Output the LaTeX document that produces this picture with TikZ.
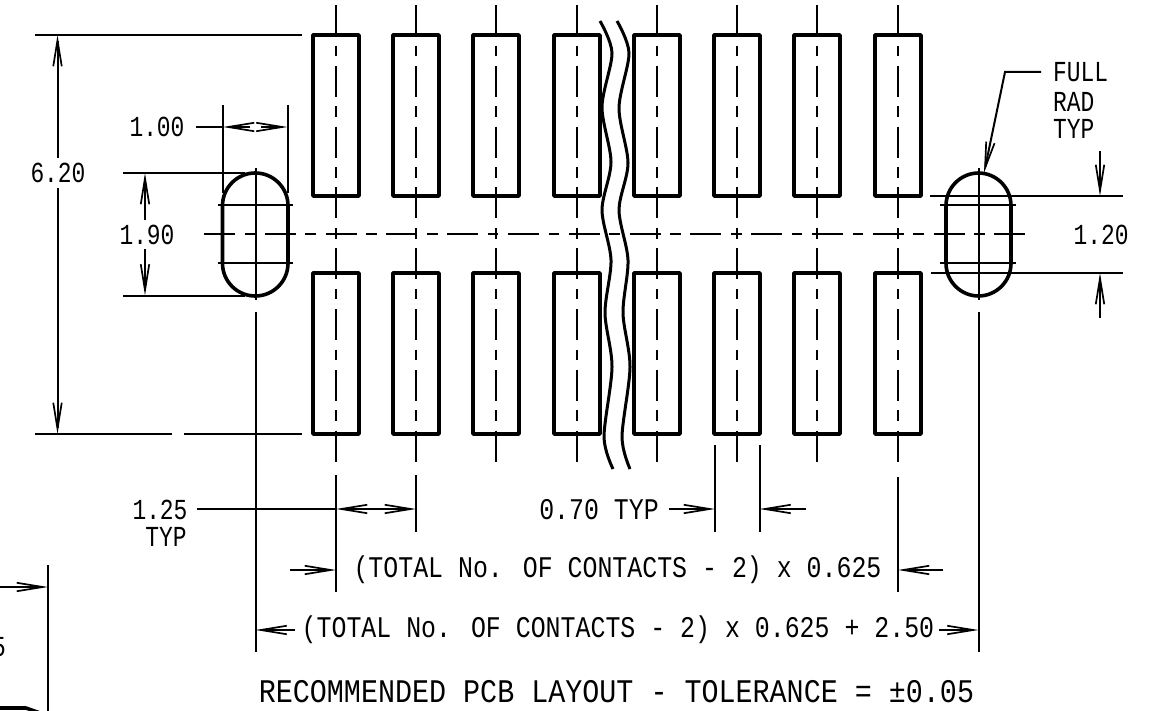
\documentclass[tikz,border=0pt]{standalone}
\usepackage{fontspec}
\usetikzlibrary{arrows.meta}
\newfontfamily\dimfont[FakeStretch=0.83]{Liberation Mono}
\newfontfamily\shortfont[FakeStretch=0.79]{Liberation Mono}
\newfontfamily\titlefont[FakeStretch=0.86]{Liberation Mono}
\tikzset{
  padline/.style={black, line width=3.6pt, line join=round},
  dimline/.style={black, line width=2pt},
  centerline/.style={black, line width=2pt, dash pattern=on 31pt off 9.6pt on 10.6pt off 9.6pt},
  shorttext/.style={inner sep=0pt, font=\shortfont\fontsize{29}{29}\selectfont},
  dimtext/.style={inner sep=0pt, font=\dimfont\fontsize{30}{30}\selectfont},
  bigtext/.style={inner sep=0pt, font=\titlefont\fontsize{33}{33}\selectfont},
  >={Straight Barb[length=26pt,width=8.5pt,line width=1.7pt]},
}
\begin{document}
\begin{tikzpicture}[x=1pt, y=-1pt]
    \useasboundingbox[fill=white] (0,0) rectangle (1150,711);

    % contacts and their centre lines
    \foreach \padx in {336,416,496,577,657,737,817,898} {
        \draw[padline] (\padx-23,35) rectangle (\padx+23,196);
        \draw[padline] (\padx-23,273) rectangle (\padx+23,434);
        \draw[centerline] (\padx,5) -- (\padx,463);
    }
    \draw[centerline] (204,234.5) -- (1026,234.5);

    % break lines
    \draw[padline, line width=3pt] plot[smooth] coordinates {(600,21) (612,53) (602,107) (611,162) (602,210) (611,260) (605,313) (612,367) (604,437) (613,469)};
    \draw[padline, line width=3pt] plot[smooth] coordinates {(617,21) (629,53) (619,108) (628,163) (619,210) (628,260) (623,313) (630,367) (622,437) (630,469)};

    % left slot
    \draw[padline, rounded corners=32.7pt] (222.5,173) rectangle (288,296);
    \draw[dimline] (218,205.5) -- (293,205.5);
    \draw[dimline] (218,263) -- (293,263);
    \draw[dimline] (255.5,168) -- (255.5,300);
    \draw[dimline] (255.5,312) -- (255.5,652);

    % right slot
    \draw[padline, rounded corners=32.7pt] (946,173) rectangle (1011,296);
    \draw[dimline] (940,205.5) -- (1016,205.5);
    \draw[dimline] (940,263) -- (1016,263);
    \draw[dimline] (978.5,168) -- (978.5,300);
    \draw[dimline] (978.5,312) -- (978.5,652);

    % 6.20
    \draw[dimline] (35,35) -- (302,35);
    \draw[dimline] (35,434) -- (172,434);
    \draw[dimline] (184,434) -- (302,434);
    \draw[dimline,->] (57.5,158) -- (57.5,35);
    \draw[dimline,->] (57.5,188) -- (57.5,434);
    \node[shorttext] (lblheight) at (58,173) {6.20};

    % 1.90
    \draw[dimline] (123,173) -- (245,173);
    \draw[dimline] (123,295.5) -- (245,295.5);
    \draw[dimline,->] (145,220) -- (145,173);
    \draw[dimline,->] (145,249) -- (145,295.5);
    \node[shorttext] (lblslotlen) at (147,234.5) {1.90};

    % 1.00
    \draw[dimline] (223,105) -- (223,193);
    \draw[dimline] (287.5,105) -- (287.5,193);
    \draw[dimline] (196,127) -- (223,127);
    \draw[dimline,->] (250,127) -- (223,127);
    \draw[dimline,->] (261,127) -- (287.5,127);
    \node[shorttext] (lblslotwid) at (157,127) {1.00};

    % full rad
    \draw[dimline,->] (1041,72) -- (1005,72) -- (984,173);
    \node[shorttext, anchor=west] (lblfull) at (1053,72) {FULL};
    \node[shorttext, anchor=west] (lblrad) at (1053,101.5) {RAD};
    \node[shorttext, anchor=west] (lbltyp) at (1053,128.5) {TYP};

    % 1.20
    \draw[dimline] (930,196) -- (1123,196);
    \draw[dimline] (931,273) -- (1123,273);
    \draw[dimline,->] (1100,151) -- (1100,196);
    \draw[dimline,->] (1100,318) -- (1100,273);
    \node[shorttext] (lblgap) at (1101,234.5) {1.20};

    % 1.25 typ
    \draw[dimline] (336,475) -- (336,592);
    \draw[dimline] (416,475) -- (416,532);
    \draw[dimline] (197,509) -- (336,509);
    \draw[dimline,<->] (336,509) -- (416,509);
    \node[shorttext] (lblpitch) at (160,510) {1.25};
    \node[shorttext] (lblpitchtyp) at (166,537) {TYP};

    % 0.70 typ
    \draw[dimline] (715,445) -- (715,532);
    \draw[dimline] (759.5,445) -- (759.5,532);
    \draw[dimline,->] (669,509) -- (715,509);
    \draw[dimline,->] (806,509) -- (759.5,509);
    \node[dimtext, anchor=east] (lblpadwid) at (659,510) {0.70 TYP};

    % total rows
    \draw[dimline] (898,477) -- (898,592);
    \draw[dimline,->] (290,570) -- (336,570);
    \draw[dimline,->] (943,570) -- (898,570);
    \node[dimtext] (lblrowa) at (617.5,570) {(TOTAL No. OF CONTACTS - 2) x 0.625};
    \draw[dimline,->] (295,630) -- (255.5,630);
    \draw[dimline,->] (939,630) -- (978.5,630);
    \node[dimtext] (lblrowb) at (618,630) {(TOTAL No. OF CONTACTS - 2) x 0.625 + 2.50};

    \node[bigtext] (lbltitle) at (616.5,692) {RECOMMENDED PCB LAYOUT - TOLERANCE = ±0.05};

    % cut off at the lower left
    \draw[dimline] (48,565) -- (48,711);
    \draw[dimline,->] (-2,587) -- (48,587);
    \node[shorttext, anchor=east] (lblcut) at (6,647) {5};
    \draw[padline] (-4,708) -- (26,708) -- (40,713);
\end{tikzpicture}
\end{document}
